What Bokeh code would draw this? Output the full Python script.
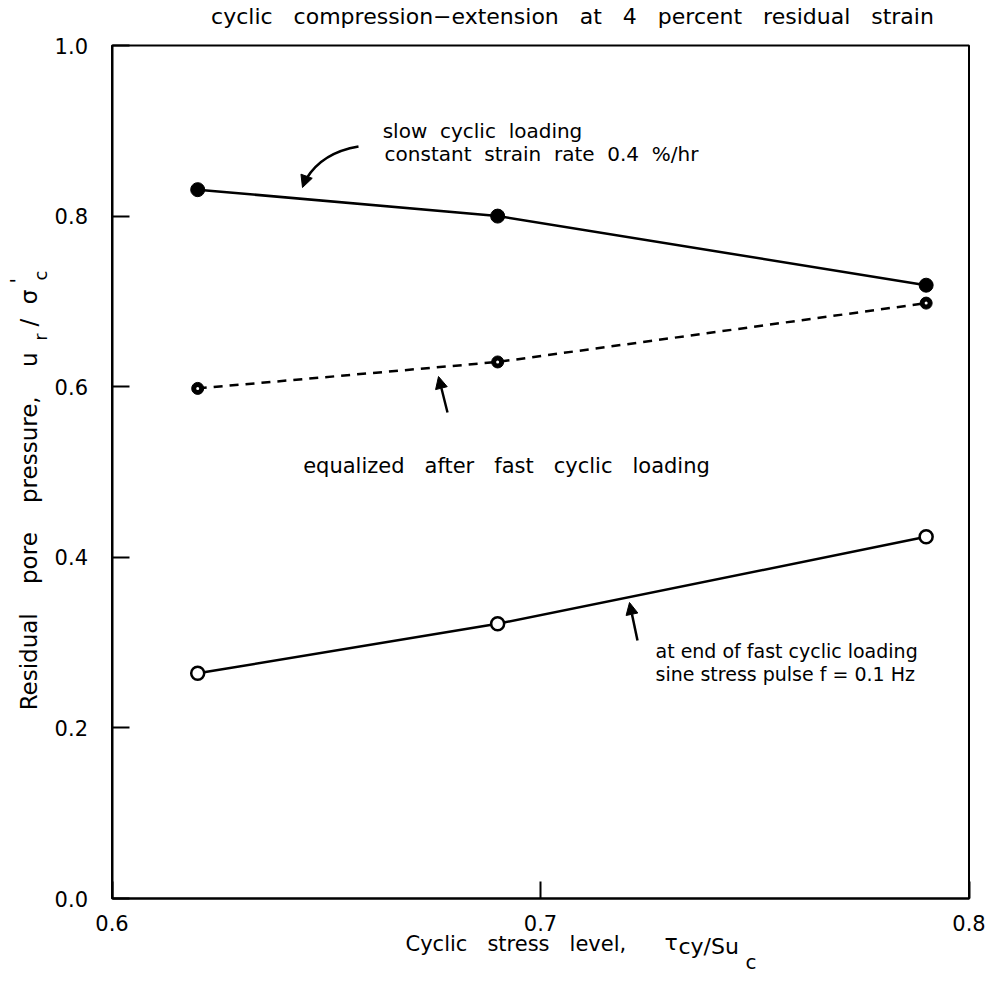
import math
from bokeh.plotting import figure
from bokeh.models import (Range1d, FixedTicker, NumeralTickFormatter, Label, Arrow, NormalHead,
                          LinearAxis, BoxAnnotation)
from bokeh.embed import file_html
from bokeh.resources import INLINE

# ---- data ----
stress_level = [0.62, 0.69, 0.79]
slow_cyclic = [0.831, 0.800, 0.719]
equalized = [0.598, 0.629, 0.698]
end_fast = [0.264, 0.322, 0.424]
x_ticks = [0.6, 0.7, 0.8]
y_ticks = [0.0, 0.2, 0.4, 0.6, 0.8, 1.0]

FONT = "DejaVu Sans"
NB = "\u00a0"

W, H = 986, 978
X0_PX, X1_PX = 111.5, 968.5     # page px of x = 0.6 and 0.8
Y0_PX, Y1_PX = 898.0, 45.0      # page px of y = 0.0 and 1.0
XS = (X1_PX - X0_PX) / 0.2
YS = (Y0_PX - Y1_PX) / 1.0

def fx(px):
    return 0.6 + (px - X0_PX) / XS

def fy(py):
    return (Y0_PX - py) / YS

p = figure(frame_width=W, frame_height=H, min_border=0,
           x_range=Range1d(fx(0), fx(W)), y_range=Range1d(fy(H), fy(0)),
           x_axis_location=None, y_axis_location=None,
           output_backend="svg", toolbar_location=None, background_fill_color="white")
p.grid.visible = False
p.outline_line_color = None

xax = LinearAxis(fixed_location=0.0, bounds=(0.6, 0.8), ticker=FixedTicker(ticks=x_ticks))
yax = LinearAxis(fixed_location=0.6, bounds=(0.0, 1.0), ticker=FixedTicker(ticks=y_ticks))
for ax in (xax, yax):
    ax.axis_line_width = 2
    ax.major_tick_in = 17
    ax.major_tick_out = 0
    ax.major_tick_line_width = 2
    ax.minor_tick_line_color = None
    ax.major_label_text_font = FONT
    ax.major_label_text_font_size = "21px"
    ax.major_label_text_color = "black"
    ax.formatter = NumeralTickFormatter(format="0.0")
xax.major_label_standoff = 16
yax.major_label_standoff = 24
p.add_layout(xax, "below")
p.add_layout(yax, "left")

p.add_layout(BoxAnnotation(left=0.6, right=0.8, bottom=0.0, top=1.0, fill_color=None,
                           line_color="black", line_alpha=1.0, line_width=2))

# ---- series ----
p.line(stress_level, slow_cyclic, line_color="black", line_width=2.5)
p.scatter(stress_level, slow_cyclic, size=14, marker="circle", fill_color="black", line_color="black")

p.line(stress_level, equalized, line_color="black", line_width=2.5, line_dash="9 7")
p.scatter(stress_level, equalized, size=12, marker="circle", fill_color="black", line_color="black")
p.scatter(stress_level, equalized, size=3, marker="circle", fill_color="white", line_color=None)

p.line(stress_level, end_fast, line_color="black", line_width=2.5)
p.scatter(stress_level, end_fast, size=13, marker="circle", fill_color="white", line_color="black", line_width=2.5)

def lab(text, px, py, size="19px", align="left", angle=0.0, gap=2):
    p.add_layout(Label(x=fx(px), y=fy(py), text=text.replace(" ", NB * gap), text_font=FONT,
                       text_font_size=size, text_align=align, text_baseline="middle",
                       angle=angle, text_color="black"))

# title
lab("cyclic compression\u2212extension at 4 percent residual strain", 572, 16,
    size="22px", align="center", gap=3)

# annotations
lab("slow cyclic loading", 482, 130, size="20px", align="center")
lab("constant strain rate 0.4 %/hr", 541, 153, size="20px", align="center")
lab("equalized after fast cyclic loading", 506, 465, size="21px", align="center", gap=3)
lab("at end of fast cyclic loading", 655, 650, gap=1)
lab("sine stress pulse f = 0.1 Hz", 655, 673, gap=1)

# arrows
p.quadratic(x0=[fx(358)], y0=[fy(146)], cx=[fx(322)], cy=[fy(152)], x1=[fx(306)], y1=[fy(178)],
            line_color="black", line_width=2.5)
for (tx, ty, hx, hy) in [(306, 176, 302, 187), (447, 412, 438, 376), (637, 640, 629, 602)]:
    p.add_layout(Arrow(x_start=fx(tx), y_start=fy(ty), x_end=fx(hx), y_end=fy(hy),
                       line_color="black", line_width=2.5,
                       end=NormalHead(size=12, fill_color="black", line_color="black")))

# x axis label
lab("Cyclic stress level,", 405, 943, size="21px", gap=3)
lab("\u03c4", 664, 942, size="22px")
lab("cy/Su", 678, 946, size="22px")
lab("c", 745, 961, size="20px")

# y axis label (rotated, reads bottom to top)
rot = math.pi / 2
lab("Residual pore pressure, u", 28, 352, size="23px", align="right", angle=rot, gap=4)
lab("r", 40, 340, size="17px", angle=rot)
lab("/ \u03c3", 28, 326, size="23px", angle=rot, gap=2)
lab("c", 40, 280, size="18px", angle=rot)
lab("'", 16, 283, size="20px", angle=rot)

open("out.html", "w").write(file_html(p, INLINE))
